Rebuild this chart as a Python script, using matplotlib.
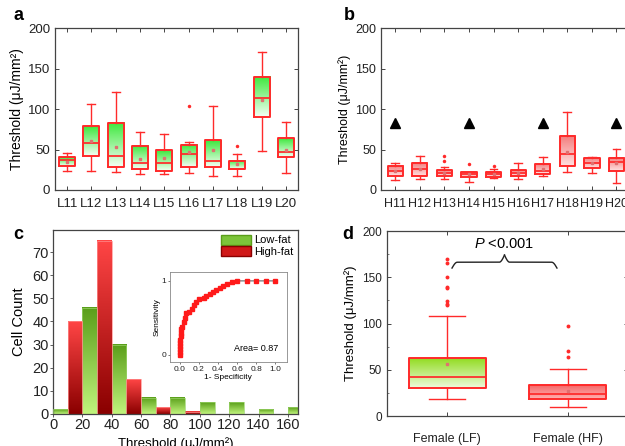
#!/usr/bin/env python3
# -*- coding: utf-8 -*-

"""
Four panel threshold figure: box plots for low-fat / high-fat cells, a
histogram of the thresholds with ROC inset, and the pooled comparison.
"""

import numpy as np
from matplotlib import pyplot as plt
from matplotlib.colors import LinearSegmentedColormap
from matplotlib.patches import Patch

plt.rcParams["font.family"] = ["Liberation Sans", "DejaVu Sans"]
plt.rcParams["font.size"] = 8
plt.rcParams["mathtext.fontset"] = "custom"
plt.rcParams["mathtext.rm"] = "Liberation Sans"
plt.rcParams["mathtext.it"] = "Liberation Sans:italic"

# ---------------------------------------------------------------- panel a
low_labels = ["L11", "L12", "L13", "L14", "L15", "L16", "L17", "L18", "L19", "L20"]
low_q1 = [30, 42.5, 28, 25.6, 24, 28, 28.9, 25.6, 89.9, 41.2]
low_q3 = [40.4, 79, 82.5, 54.4, 49.5, 55.3, 61.9, 36.3, 139.4, 64]
low_med = [37, 57.7, 42.5, 33.8, 33.8, 44.5, 36.3, 26, 113.4, 47.4]
low_lo = [23.5, 23.5, 22.3, 19.8, 19.8, 20.6, 17.7, 17.7, 48.7, 20.6]
low_hi = [45.4, 106, 121.6, 71.3, 68.9, 59.8, 104, 45, 170, 84.5]
low_mean = [35, 60, 53.6, 38.8, 39.6, 47, 49.5, 32, 111.3, 49.5]
low_fliers = [[], [], [], [], [], [104.3], [], [54.8], [], []]

# ---------------------------------------------------------------- panel b
high_labels = ["H11", "H12", "H13", "H14", "H15", "H16", "H17", "H18", "H19", "H20"]
high_q1 = [17.3, 17.3, 17.3, 16.5, 16.5, 17.3, 19.4, 29.7, 26.8, 23.9]
high_q3 = [29.7, 33.8, 24.7, 21.9, 21.9, 24.7, 31.8, 66.8, 39.2, 40]
high_med = [23.9, 25.6, 20.6, 19.8, 19.8, 20.6, 23.5, 44.5, 33, 34.2]
high_lo = [12, 14, 13.6, 10.3, 15.3, 13.6, 17.3, 22.3, 21.4, 8.2]
high_hi = [33.8, 42.5, 28, 22.7, 25.6, 33, 41.2, 96, 40.4, 50.7]
high_mean = [23, 26, 21, 20, 20, 21, 26, 47, 33, 33]
high_fliers = [[], [], [35.9, 42], [31.8], [30], [], [], [], [], []]
triangle_cells = [1, 4, 7, 10]
triangle_level = 82.5

# ---------------------------------------------------------------- panel c
low_bin_left = [0, 20, 40, 60, 80, 100, 120, 140, 160]
low_counts = [2, 46, 30, 7, 7, 5, 5, 2, 3]
high_bin_left = [10, 30, 50, 70, 90]
high_counts = [40, 75, 15, 3, 1]
bin_width = 10

roc_fpr = [0.0, 0.0, 0.0, 0.0, 0.0, 0.0, 0.01, 0.01, 0.02, 0.03, 0.05, 0.06, 0.07,
           0.1, 0.13, 0.15, 0.17, 0.2, 0.25, 0.28, 0.32, 0.35, 0.38, 0.42, 0.45,
           0.5, 0.55, 0.6, 0.7, 0.8, 0.9, 1.0]
roc_tpr = [0.0, 0.04, 0.08, 0.12, 0.16, 0.2, 0.25, 0.3, 0.35, 0.38, 0.45, 0.5, 0.56,
           0.58, 0.62, 0.67, 0.72, 0.75, 0.77, 0.8, 0.82, 0.85, 0.88, 0.9, 0.93,
           0.96, 0.99, 1.0, 1.0, 1.0, 1.0, 1.0]
roc_area = 0.87

# ---------------------------------------------------------------- panel d
group_labels = ["Female (LF)", "Female (HF)"]
group_q1 = [30.6, 19]
group_q3 = [63, 33.5]
group_med = [42, 23.4]
group_lo = [18, 9.4]
group_hi = [108, 51.4]
group_mean = [55.8, 27]
group_fliers = [[119.8, 121.6, 124, 138.5, 139.6, 150, 165, 170], [64, 70, 97]]
p_text = "<0.001"

RED = "#ff2a2a"
FRAME = "#444444"
UNIT = "Threshold (μJ/mm²)"


def gradient_rect(ax, x0, x1, y0, y1, c_top, c_bot, zorder=1):
    """Fill a rectangle with a vertical colour gradient."""
    cmap = LinearSegmentedColormap.from_list("g", [c_bot, c_top])
    grad = np.linspace(0, 1, 64).reshape(-1, 1)
    ax.imshow(grad, extent=[x0, x1, y0, y1], origin="lower", aspect="auto",
              cmap=cmap, interpolation="bilinear", zorder=zorder)


def stats_list(q1, q3, med, lo, hi, mean, fliers):
    out = []
    for i in range(len(q1)):
        out.append(dict(q1=q1[i], q3=q3[i], med=med[i], whislo=lo[i], whishi=hi[i],
                        mean=mean[i], fliers=fliers[i]))
    return out


def draw_boxes(ax, stats, width, c_top, c_bot, cap=0.5, lw=1.4, flier_ms=2.5):
    pos = np.arange(1, len(stats) + 1)
    ax.bxp(stats, positions=pos, widths=width, showmeans=True, showfliers=True,
           boxprops=dict(color=RED, lw=lw), whiskerprops=dict(color=RED, lw=1.0),
           capprops=dict(color=RED, lw=1.0), medianprops=dict(color=RED, lw=lw * 0.9),
           meanprops=dict(marker="s", markersize=1.5, markerfacecolor="#e07070",
                          markeredgecolor="#e07070"),
           flierprops=dict(marker="o", markersize=flier_ms, markerfacecolor=RED,
                           markeredgecolor="none"),
           capwidths=width * cap, zorder=3)
    for p, s in zip(pos, stats):
        gradient_rect(ax, p - width / 2, p + width / 2, s["q1"], s["q3"], c_top, c_bot)


def style_axes(ax, size=9.5):
    for sp in ax.spines.values():
        sp.set_color(FRAME)
        sp.set_linewidth(0.9)
    ax.tick_params(direction="in", top=True, right=True, length=3, width=0.7,
                   colors=FRAME, labelcolor="#222222", labelsize=size)


fig = plt.figure(figsize=(6.25, 4.46), dpi=100)

# a
ax_a = fig.add_axes([0.088, 0.574, 0.389, 0.363])
draw_boxes(ax_a, stats_list(low_q1, low_q3, low_med, low_lo, low_hi, low_mean, low_fliers),
           0.66, "#3ee83e", "#f4fff4")
ax_a.set_xlim(0.5, 10.5)
ax_a.set_ylim(0, 200)
ax_a.set_yticks([0, 50, 100, 150, 200])
ax_a.set_xticks(np.arange(1, 11))
ax_a.set_xticklabels(low_labels)
style_axes(ax_a)
ax_a.tick_params(axis="x", pad=6)
ax_a.set_ylabel(UNIT, fontsize=10, labelpad=3)

# b
ax_b = fig.add_axes([0.610, 0.574, 0.396, 0.363])
draw_boxes(ax_b, stats_list(high_q1, high_q3, high_med, high_lo, high_hi, high_mean, high_fliers),
           0.62, "#f37c7c", "#ffe0e0")
ax_b.plot(triangle_cells, [triangle_level] * len(triangle_cells), "k^", ms=7, zorder=4)
ax_b.set_xlim(0.43, 10.5)
ax_b.set_ylim(0, 200)
ax_b.set_yticks([0, 50, 100, 150, 200])
ax_b.set_xticks(np.arange(1, 11))
ax_b.set_xticklabels(high_labels)
style_axes(ax_b, 9)
ax_b.tick_params(axis="x", pad=6)
ax_b.set_ylabel(UNIT, fontsize=9, labelpad=3)

# c
ax_c = fig.add_axes([0.085, 0.072, 0.392, 0.412])
for x, h in zip(low_bin_left, low_counts):
    gradient_rect(ax_c, x, x + bin_width, 0, h, "#5a9e1a", "#c0f47c", zorder=2)
    ax_c.bar(x, h, width=bin_width, align="edge", fill=False, edgecolor="#9ad36a",
             lw=0.5, zorder=3)
for x, h in zip(high_bin_left, high_counts):
    gradient_rect(ax_c, x, x + bin_width, 0, h, "#ff4545", "#8a0000", zorder=2)
    ax_c.bar(x, h, width=bin_width, align="edge", fill=False, edgecolor="#ff9090",
             lw=0.5, zorder=3)
ax_c.set_xlim(0, 167)
ax_c.set_ylim(0, 79.5)
ax_c.set_xticks(np.arange(0, 161, 20))
ax_c.set_yticks(np.arange(0, 71, 10))
for sp in ax_c.spines.values():
    sp.set_color(FRAME)
    sp.set_linewidth(0.9)
ax_c.tick_params(direction="out", length=2, width=0.6, labelsize=10.5, pad=1,
                 colors=FRAME, labelcolor="#222222")
ax_c.set_ylabel("Cell Count", fontsize=10.5, labelpad=5)
ax_c.set_xlabel(UNIT, fontsize=9.5, labelpad=4)
handles = [Patch(facecolor="#7cc43a", edgecolor="#5a9e1a", label="Low-fat"),
           Patch(facecolor="#d01818", edgecolor="#8a0000", label="High-fat")]
ax_c.legend(handles=handles, loc="upper right", fontsize=8, frameon=False,
            handlelength=2.7, handleheight=1.0, handletextpad=0.3, borderpad=0.2,
            labelspacing=0.1, borderaxespad=0.2)

ax_in = fig.add_axes([0.272, 0.188, 0.187, 0.202])
ax_in.plot(roc_fpr, roc_tpr, color="#333333", lw=0.6, zorder=2)
ax_in.plot(roc_fpr, roc_tpr, "s", color="#ff1a1a", ms=2.5, zorder=3)
ax_in.set_xlim(-0.1, 1.12)
ax_in.set_ylim(-0.1, 1.12)
ax_in.set_xticks([0, 0.2, 0.4, 0.6, 0.8, 1.0])
ax_in.set_yticks([0, 1])
ax_in.tick_params(labelsize=6, length=1.5, width=0.5, pad=1, colors=FRAME,
                  labelcolor="#222222")
for sp in ax_in.spines.values():
    sp.set_color("#888888")
    sp.set_linewidth(0.6)
ax_in.set_xlabel("1- Specificity", fontsize=6, labelpad=1)
ax_in.set_ylabel("Sensitivity", fontsize=6, labelpad=1)
ax_in.text(0.55, 0.12, "Area= {:.2f}".format(roc_area), fontsize=6.5,
           transform=ax_in.transAxes)

# d
ax_d = fig.add_axes([0.619, 0.067, 0.386, 0.415])
draw_boxes(ax_d, stats_list(group_q1, group_q3, group_med, group_lo, group_hi, group_mean,
                            group_fliers),
           0.64, "#92dc22", "#eefadc", cap=0.47, flier_ms=2.8)
# re-fill HF box with red gradient on top of the green one
gradient_rect(ax_d, 2 - 0.32, 2 + 0.32, group_q1[1], group_q3[1], "#f56a6a", "#ffb0b0", zorder=2)
ax_d.set_xlim(0.5, 2.5)
ax_d.set_ylim(0, 200)
ax_d.set_yticks([0, 50, 100, 150, 200])
ax_d.set_yticks([25, 75, 125, 175], minor=True)
ax_d.set_xticks([1, 2])
ax_d.set_xticklabels(group_labels)
style_axes(ax_d, 8.5)
ax_d.tick_params(axis="y", which="minor", direction="in", right=True, length=1.5,
                 width=0.5, colors=FRAME)
ax_d.tick_params(axis="x", pad=12, labelsize=9)
ax_d.set_ylabel(UNIT, fontsize=9.5, labelpad=4)

# curly brace for the significance annotation
bx0, bx1, by, bh = 1.04, 1.91, 160, 14
bmid = (bx0 + bx1) / 2
t = np.linspace(0, 1, 200)
end_curl = np.sin(0.5 * np.pi * np.clip(t / 0.1, 0, 1))
mid_curl = 1 - np.cos(0.5 * np.pi * np.clip((t - 0.9) / 0.1, 0, 1))
left_x = bx0 + (bmid - bx0) * t
left_y = by + bh * (0.45 * end_curl + 0.55 * mid_curl)
ax_d.plot(left_x, left_y, color="#222222", lw=1.0)
ax_d.plot(2 * bmid - left_x, left_y, color="#222222", lw=1.0)
ax_d.text(bmid, 178, r"$P$ " + p_text, ha="center", va="bottom", fontsize=10.5)

# panel letters
for x, y, s in [(0.022, 0.965, "a"), (0.550, 0.965, "b"), (0.022, 0.475, "c"), (0.547, 0.475, "d")]:
    fig.text(x, y, s, fontsize=13, fontweight="bold", va="center")

fig.savefig("out.png", dpi=100)
plt.close()
